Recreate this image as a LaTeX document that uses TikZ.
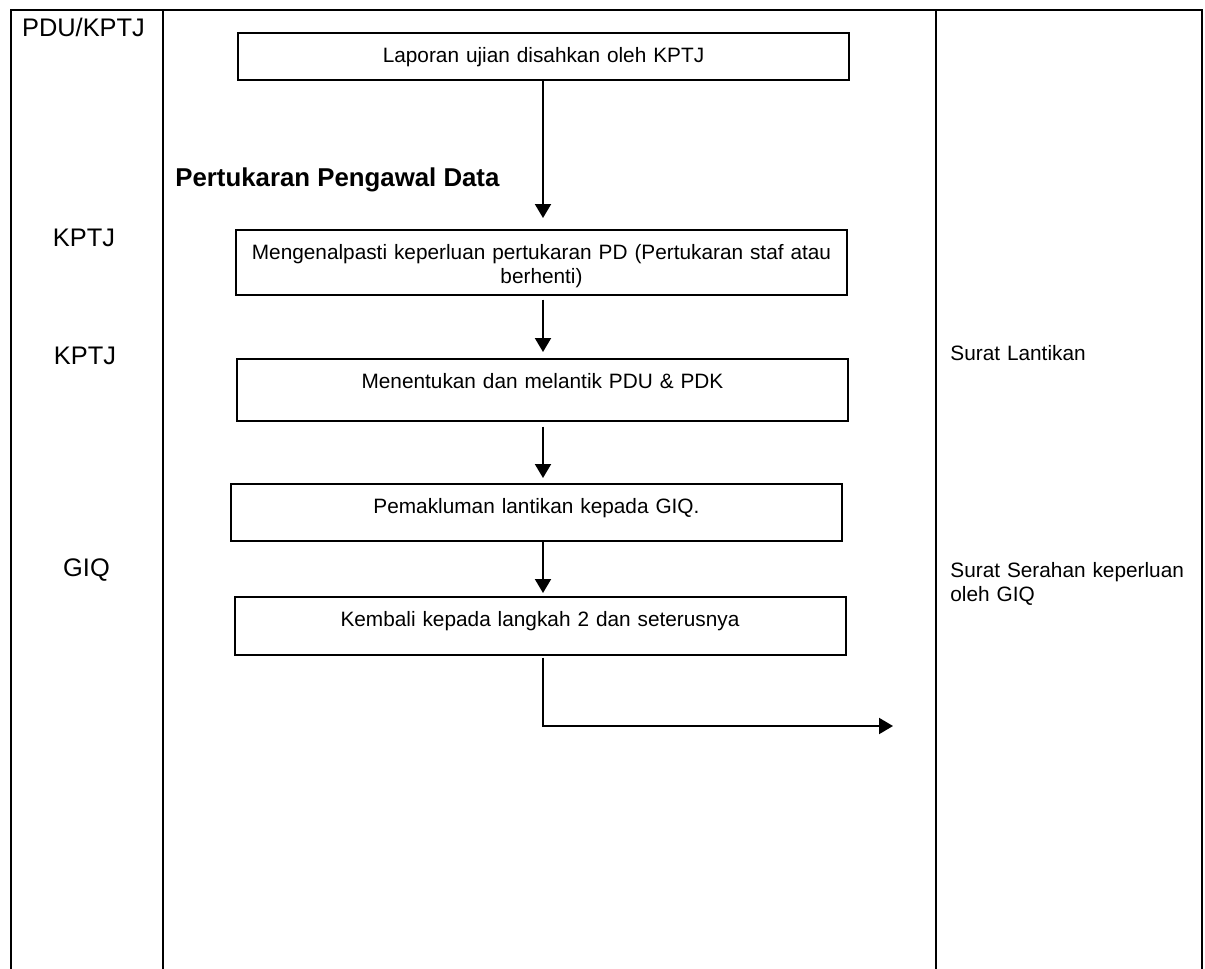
\documentclass[tikz,border=0pt]{standalone}
\usepackage{fontspec}
\setmainfont{Liberation Sans}
\usepackage{tikz}
\usetikzlibrary{arrows.meta}

\tikzset{
  stepbox/.style={draw, line width=1pt, inner sep=0pt, anchor=north,
    text width=305.5pt, align=center, text height=14.75pt, text depth=#1,
    font=\fontsize{10.4}{12}\selectfont},
  lane/.style={anchor=base, inner sep=0pt, font=\fontsize{12.7}{15}\selectfont},
  note/.style={anchor=base west, inner sep=0pt, text width=125pt, align=left,
    font=\fontsize{10.4}{12}\selectfont},
  flow/.style={line width=1pt, -{Triangle[length=7pt,width=8pt]}},
  rule/.style={line width=1pt}
}

\begin{document}
\begin{tikzpicture}[x=0.5pt, y=-0.5pt]
        \useasboundingbox (0,0) rectangle (1205,969);

        % Rangka jadual dan lajur
        \draw[rule] (11,969) |- (1202,10) -- (1202,969);
        \foreach \x in {163,936}
          \draw[rule] (\x,10) -- (\x,969);

        % Pegawai yang bertanggungjawab
        \node[lane] (P1) at (83.5,36.7) {PDU/KPTJ};
        \node[lane] (P2) at (84,246) {KPTJ};
        \node[lane] (P3) at (85,364) {KPTJ};
        \node[lane] (P4) at (86.5,576) {GIQ};

        % Tajuk proses
        \node[anchor=base west, inner sep=0pt, font=\fontsize{12.9}{15}\selectfont\bfseries] (T) at (175,186) {Pertukaran Pengawal Data};

        % Langkah-langkah proses
        \node[stepbox=8.5pt] (L1) at (543.5,32) {Laporan ujian disahkan oleh KPTJ};
        \node[stepbox=17.5pt] (L2) at (541.5,229) {Mengenalpasti keperluan pertukaran PD (Pertukaran staf atau\\ berhenti)};
        \node[stepbox=16pt] (L3) at (542.5,358) {Menentukan dan melantik PDU \& PDK};
        \node[stepbox=13.5pt] (L4) at (536.5,483) {Pemakluman lantikan kepada GIQ.};
        \node[stepbox=14pt] (L5) at (540,596) {Kembali kepada langkah 2 dan seterusnya};

        % Dokumen rujukan
        \node[note] (D1) at (950,360) {Surat Lantikan};
        \node[note] (D2) at (950,577) {Surat Serahan keperluan\\oleh GIQ};

        % Anak panah aliran
        \coordinate (A) at (543,0);   % paksi aliran
        \coordinate (K) at (893,726); % hujung keluar
        \draw[flow, shorten >=5.5pt] (L1.south -| A) -- (L2.north -| A);
        \draw[flow, shorten <=2pt, shorten >=3pt] (L2.south -| A) -- (L3.north -| A);
        \draw[flow, shorten <=2.5pt, shorten >=2.5pt] (L3.south -| A) -- (L4.north -| A);
        \draw[flow, shorten >=1.5pt] (L4.south -| A) -- (L5.north -| A);
        \draw[flow, shorten <=1pt] (L5.south -| A) |- (K);
      \end{tikzpicture}
\end{document}
